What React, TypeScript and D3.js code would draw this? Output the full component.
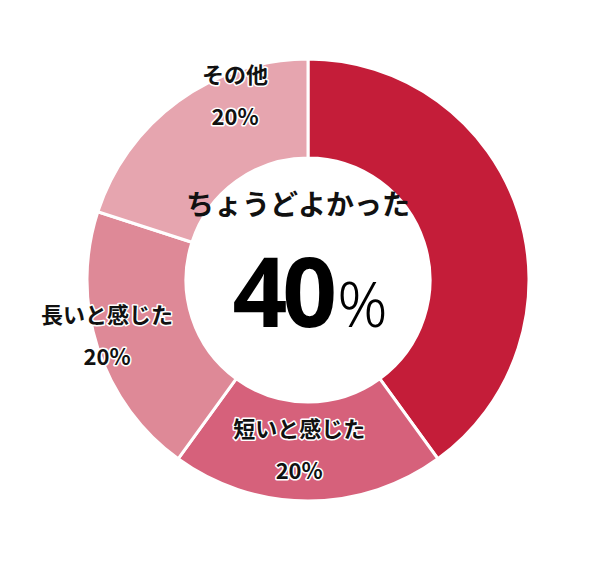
import React, { useEffect, useRef } from "react";
import * as d3 from "d3";

// Survey answers, clockwise from 12 o'clock
const categories = ["ちょうどよかった", "短いと感じた", "長いと感じた", "その他"];
const shares = [40, 20, 20, 20];
const sliceColors = ["#c41d39", "#d6617b", "#de8997", "#e6a5af"];

// where each outer label sits (polar, degrees clockwise from top)
const labelAngles = [null, 183, 255, 338.6];
const labelRadii = [0, 168, 208, 200];

const WIDTH = 599;
const HEIGHT = 562;

const App: React.FC = () => {
    const svgRef = useRef<SVGSVGElement | null>(null);

    useEffect(() => {
        if (!svgRef.current) return;
        const svg = d3.select(svgRef.current);
        svg.selectAll("*").remove();

        const cx = 308;
        const cy = 280;
        const outerR = 221;
        const innerR = 122;

        const g = svg.append("g").attr("transform", `translate(${cx},${cy})`);

        const pie = d3
            .pie<number>()
            .sort(null)
            .value(d => d);

        const arc = d3
            .arc<d3.PieArcDatum<number>>()
            .innerRadius(innerR)
            .outerRadius(outerR);

        const arcs = pie(shares);

        g.selectAll("path.slice")
            .data(arcs)
            .join("path")
            .attr("class", "slice")
            .attr("d", arc)
            .attr("fill", (_, i) => sliceColors[i])
            .attr("stroke", "#ffffff")
            .attr("stroke-width", 3);

        const jpFont = "'Noto Sans CJK JP', 'Noto Sans', sans-serif";

        // outer labels, with white halo
        arcs.forEach((a, i) => {
            const ang = labelAngles[i];
            if (ang === null) return;
            const rad = (ang * Math.PI) / 180;
            const x = labelRadii[i] * Math.sin(rad);
            const y = -labelRadii[i] * Math.cos(rad);
            const lines = [categories[i], `${shares[i]}%`];
            lines.forEach((t, j) => {
                g.append("text")
                    .attr("x", x)
                    .attr("y", y + (j === 0 ? -21 : 21))
                    .attr("text-anchor", "middle")
                    .attr("dominant-baseline", "central")
                    .attr("font-family", jpFont)
                    .attr("font-weight", 700)
                    .attr("font-size", 22)
                    .attr("fill", "#111")
                    .attr("stroke", "#ffffff")
                    .attr("stroke-width", 3)
                    .attr("stroke-linejoin", "round")
                    .attr("paint-order", "stroke")
                    .text(t);
            });
        });

        // centre: the largest slice
        g.append("text")
            .attr("x", -10)
            .attr("y", -77)
            .attr("text-anchor", "middle")
            .attr("dominant-baseline", "central")
            .attr("font-family", jpFont)
            .attr("font-weight", 700)
            .attr("font-size", 28)
            .attr("fill", "#111")
            .text(categories[0]);

        const big = g
            .append("text")
            .attr("x", 2)
            .attr("y", 47)
            .attr("text-anchor", "middle")
            .attr("fill", "#000");
        big.append("tspan")
            .attr("font-family", "'Noto Sans', sans-serif")
            .attr("font-weight", 700)
            .attr("font-size", 96)
            .attr("letter-spacing", -5)
            .text(`${shares[0]}`);
        big.append("tspan")
            .attr("font-family", "'Noto Sans', sans-serif")
            .attr("font-weight", 300)
            .attr("font-size", 62)
            .attr("dx", 5)
            .text("%");
    }, []);

    return (
        <svg
            ref={svgRef}
            width={WIDTH}
            height={HEIGHT}
            style={{ position: "absolute", left: 0, top: 0, background: "#ffffff" }}
        />
    );
};

export default App;
